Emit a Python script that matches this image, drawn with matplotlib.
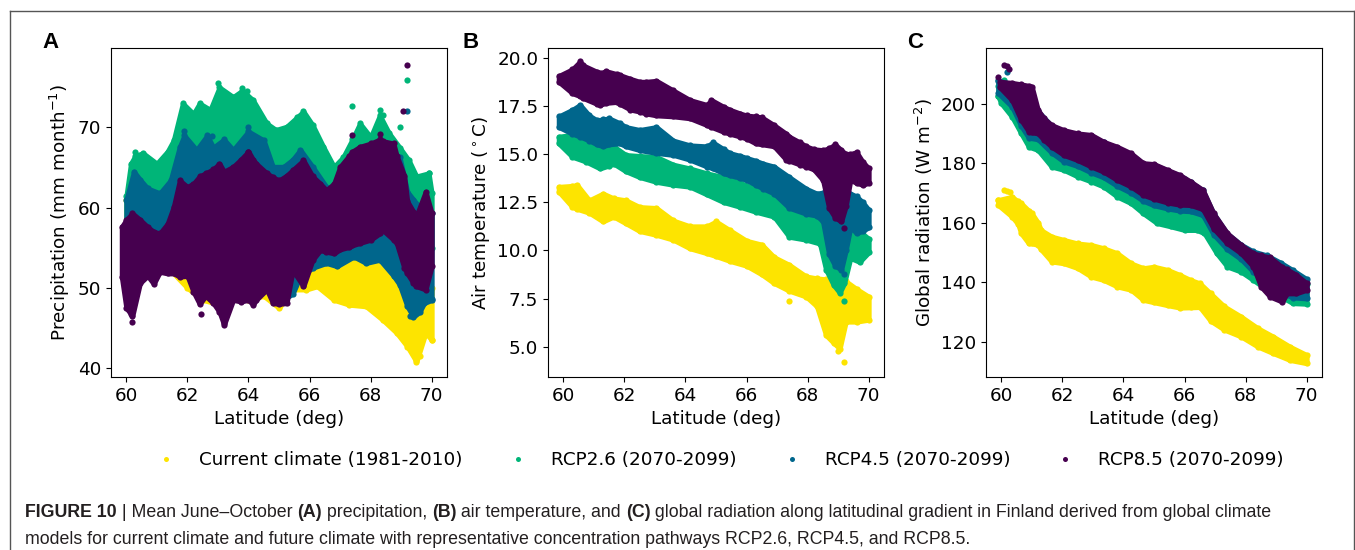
import matplotlib
matplotlib.use("Agg")
import matplotlib.pyplot as plt
from matplotlib.lines import Line2D

# colours of the four climate series
c_cur = "#fde400"
c_26 = "#00b578"
c_45 = "#00668c"
c_85 = "#46004f"

labels = ["Current climate (1981-2010)", "RCP2.6 (2070-2099)",
          "RCP4.5 (2070-2099)", "RCP8.5 (2070-2099)"]

# ---------------- A: precipitation (lower / upper edge of each cloud) ----------------
a_cur_lat = [60.0, 60.5, 61.0, 61.5, 62.0, 62.5, 63.0, 63.5, 64.0, 64.5, 65.0, 65.45, 65.9,
             66.25, 66.8, 67.3, 67.85, 68.4, 68.85, 69.2, 69.5, 69.8, 70.0]
a_cur_lo = [55, 52, 52, 52, 50, 48.5, 48, 48.5, 48.5, 49, 47.5, 49.8, 49.8,
            50.2, 48.5, 47.9, 47.7, 46.0, 44.4, 42.7, 40.8, 44.4, 43.5]
a_cur_hi = [61.0, 59, 58, 58, 59, 59, 59, 59, 59, 58, 58, 57, 56.5,
            56.5, 56, 56.8, 56.5, 56, 54, 52, 50, 50, 50]
a_cur_px = [69.5, 69.6, 70.0, 69.85, 68.9]
a_cur_py = [41.0, 41.5, 43.5, 47.0, 44.5]

a_26_lat = [60.0, 60.15, 60.3, 60.55, 61.0, 61.35, 61.55, 61.85, 62.2, 62.4, 62.75, 63.05,
            63.5, 63.8, 64.15, 64.6, 64.9, 65.25, 65.6, 65.8, 66.1, 66.45, 66.8, 67.1,
            67.4, 67.65, 68.0, 68.3, 68.6, 68.95, 69.25, 69.5, 69.9, 70.0]
a_26_lo = [57, 57, 57, 57, 57, 57, 57, 57, 57, 57, 57, 57,
           57, 57, 57, 57, 57, 57, 57, 57, 58, 58, 58, 58,
           58, 58, 58, 58, 58, 57, 55, 54, 55, 55]
a_26_hi = [61.4, 65.5, 66.5, 66.8, 65.5, 67.0, 68.4, 73.0, 71.7, 73.0, 72.2, 75.0,
           73.8, 74.6, 73.4, 70.5, 69.7, 70.1, 71.3, 72.0, 70.3, 67.6, 65.1, 66.3,
           68.5, 70.5, 68.8, 71.5, 69.3, 67.5, 65.9, 63.9, 64.3, 61.8]
a_26_px = [60.3, 63.0, 63.8, 63.95, 67.4, 68.3, 68.4, 68.95, 69.2, 69.6, 69.9]
a_26_py = [67.0, 75.5, 74.9, 74.6, 72.7, 72.2, 71.5, 70.1, 75.9, 63.8, 64.3]

a_45_lat = [60.0, 60.25, 60.45, 60.7, 61.1, 61.45, 61.75, 61.9, 62.3, 62.65, 62.85, 63.2,
            63.5, 64.0, 64.5, 64.8, 65.15, 65.45, 65.7, 66.1, 66.55, 66.9, 67.45, 67.85,
            68.3, 68.75, 68.95, 69.2, 69.4, 69.6, 69.75, 70.0]
a_45_lo = [53.5, 50.6, 54, 55.6, 55.5, 55.1, 54.6, 54.3, 51.5, 50.6, 50.6, 48,
           50.2, 49.3, 51.0, 49.3, 48.5, 49.3, 51.5, 52.5, 53.1, 52.7, 53.9, 53.1,
           53.5, 51.5, 50.4, 47.7, 46.4, 47.0, 48.1, 48.5]
a_45_hi = [61.0, 64.5, 63.5, 62.4, 61.8, 63.4, 67.6, 69.0, 67.2, 69.0, 67.5, 68.5,
           67.2, 69.5, 68.4, 65.1, 65.1, 66, 67.2, 65.1, 62.6, 61.0, 65.5, 66.8,
           68.4, 65.9, 66.3, 62.0, 61.0, 60.1, 59.8, 59.3]
a_45_px = [64.0, 69.2, 61.9, 62.8, 69.3, 70.0, 60.2]
a_45_py = [70.1, 72.0, 69.5, 68.9, 46.5, 48.6, 49.5]

a_85_lat = [59.85, 60.0, 60.2, 60.45, 60.7, 60.9, 61.1, 61.35, 61.55, 61.75, 62.0, 62.2,
            62.4, 62.6, 62.85, 63.05, 63.2, 63.5, 63.75, 64.0, 64.15, 64.25, 64.6, 64.8,
            65.0, 65.25, 65.45, 65.8, 66.1, 66.35, 66.55, 66.8, 67.0, 67.3, 67.4, 67.65,
            68.0, 68.3, 68.4, 68.75, 68.85, 69.1, 69.2, 69.4, 69.5, 69.8, 70.0]
a_85_lo = [51.4, 47.5, 46.5, 50.6, 51.5, 50.5, 52, 51.8, 51.8, 51.4, 51.5, 49.5,
           48, 49, 48.1, 47, 45.4, 48.5, 48.3, 48.5, 47.9, 48.5, 49.8, 48.1,
           48.0, 48.1, 52.2, 50.2, 53.5, 54.7, 54.5, 54.3, 54.8, 55.1, 55.3, 55.6,
           56.0, 56.8, 57.2, 56.0, 55.6, 52.5, 51.8, 50.6, 50.2, 49.8, 52.7]
a_85_hi = [57.6, 58.5, 59.3, 58.5, 57.6, 57.0, 56.8, 58.0, 60.1, 63.4, 62.6, 63.0,
           63.9, 64.3, 64.8, 65.5, 64.5, 65.1, 66.0, 67.0, 66.0, 65.5, 64.3, 63.8,
           63.4, 64.0, 64.7, 65.9, 63.9, 63.0, 62.2, 63.0, 65.1, 66.5, 67.0, 67.6,
           68.0, 68.5, 68.3, 68.0, 66.5, 64.0, 60.8, 59.5, 59.0, 62.0, 59.3]
a_85_px = [69.2, 69.05, 63.2, 60.2, 60.15, 62.45, 67.4, 68.3, 64.0, 69.95]
a_85_py = [77.8, 72.0, 45.6, 45.8, 46.7, 46.8, 69.0, 69.2, 67.0, 52.5]

# ---------------- B: air temperature ----------------
b_cur_lat = [59.85, 60.3, 60.45, 60.85, 61.3, 61.65, 62.05, 62.5, 63.05, 63.6, 64.15, 64.7,
             65.0, 65.45, 66.0, 66.5, 66.9, 67.4, 67.95, 68.3, 68.6, 68.85, 69.05, 69.25,
             69.6, 70.0]
b_cur_lo = [13.05, 12.25, 12.15, 11.95, 11.5, 11.75, 11.4, 11.0, 10.8, 10.55, 10.1, 9.85,
            9.7, 9.45, 9.2, 8.75, 8.3, 7.9, 7.6, 7.1, 5.6, 5.2, 4.9, 6.3,
            6.3, 6.4]
b_cur_hi = [13.3, 13.35, 13.4, 12.6, 12.95, 12.7, 12.6, 12.25, 12.2, 11.55, 11.25, 11.25,
            11.5, 11.05, 10.5, 10.3, 9.65, 9.25, 8.65, 8.55, 8.5, 8.55, 8.65, 8.4,
            8.0, 7.6]
b_cur_px = [67.4, 69.2, 69.0]
b_cur_py = [7.35, 4.2, 4.8]

b_26_lat = [59.85, 60.3, 60.75, 61.2, 61.5, 61.65, 62.05, 62.5, 63.05, 63.6, 64.15, 64.7,
            65.25, 65.8, 66.3, 66.9, 67.4, 67.95, 68.4, 68.6, 68.85, 69.05, 69.2, 69.4,
            69.7, 70.0]
b_26_lo = [15.55, 14.85, 14.6, 14.25, 14.4, 14.5, 14.1, 13.8, 13.55, 13.4, 13.3, 12.9,
           12.5, 12.25, 12.0, 11.75, 10.7, 10.55, 10.35, 9.0, 8.2, 7.8, 8.3, 9.6,
           9.4, 9.9]
b_26_hi = [15.9, 16.0, 15.85, 15.4, 15.65, 15.4, 14.95, 14.9, 14.85, 14.45, 14.25, 14.0,
           13.8, 13.5, 13.2, 12.8, 12.25, 11.75, 11.6, 11.5, 11.4, 11.3, 11.2, 11.1,
           11.0, 10.6]
b_26_px = [69.2]
b_26_py = [7.35]

b_45_lat = [59.85, 60.3, 60.55, 60.85, 61.1, 61.3, 61.5, 61.85, 62.05, 62.5, 63.05, 63.6,
            64.15, 64.7, 64.9, 65.25, 65.45, 65.8, 66.0, 66.3, 66.55, 66.9, 67.4, 67.95,
            68.3, 68.5, 68.7, 68.9, 69.1, 69.25, 69.4, 69.6, 69.8, 70.0]
b_45_lo = [16.4, 16.05, 15.9, 15.7, 15.5, 15.4, 15.5, 15.55, 15.4, 15.2, 15.05, 14.95,
           14.7, 14.35, 14.25, 14.0, 13.9, 13.75, 13.65, 13.4, 13.2, 12.95, 12.2, 11.9,
           11.8, 11.5, 9.8, 9.2, 9.0, 10.0, 11.2, 10.9, 11.0, 11.2]
b_45_hi = [16.95, 17.3, 17.55, 17.0, 16.75, 16.8, 16.85, 16.6, 16.4, 16.25, 16.4, 15.7,
           15.45, 15.4, 15.6, 15.25, 15.05, 14.9, 14.8, 14.65, 14.5, 14.35, 13.8, 13.2,
           12.95, 13.0, 13.1, 13.2, 13.1, 13.05, 12.95, 12.8, 12.5, 12.1]
b_45_px = [69.2]
b_45_py = [8.8]

b_85_lat = [59.85, 60.3, 60.55, 60.65, 61.1, 61.2, 61.4, 61.75, 61.85, 62.2, 62.5, 62.7,
            63.05, 63.6, 64.15, 64.7, 64.85, 65.25, 65.45, 65.8, 66.0, 66.3, 66.5, 66.9,
            67.3, 67.4, 67.75, 67.95, 68.2, 68.5, 68.7, 68.9, 69.1, 69.25, 69.4, 69.6,
            69.8, 70.0]
b_85_lo = [18.75, 18.15, 18.0, 17.9, 17.6, 17.55, 17.65, 17.7, 17.6, 17.3, 17.2, 17.1,
           17.0, 16.95, 16.85, 16.5, 16.4, 16.15, 16.05, 15.9, 15.8, 15.55, 15.5, 15.4,
           14.7, 14.65, 14.45, 14.35, 14.2, 13.65, 12.2, 11.7, 11.5, 12.3, 13.65, 13.5,
           13.4, 13.5]
b_85_hi = [19.05, 19.4, 19.8, 19.6, 19.27, 19.2, 19.3, 19.15, 19.1, 18.9, 18.75, 18.75,
           18.8, 18.3, 17.8, 17.55, 17.8, 17.45, 17.3, 17.1, 17.0, 16.95, 16.9, 16.5,
           16.05, 15.9, 15.6, 15.4, 15.25, 15.2, 15.3, 15.5, 15.2, 15.0, 15.0, 15.1,
           14.6, 14.25]
b_85_px = [69.2]
b_85_py = [11.15]

# ---------------- C: global radiation ----------------
c_cur_lat = [59.9, 60.35, 60.55, 60.65, 60.9, 61.0, 61.2, 61.3, 61.65, 62.05, 62.5, 62.95,
             63.35, 63.8, 64.25, 64.65, 65.0, 65.45, 65.85, 66.2, 66.5, 66.85, 67.3, 67.85,
             68.4, 68.9, 69.45, 70.0]
c_cur_lo = [165.9, 162, 159.5, 156.4, 153, 153, 152.5, 151, 146.9, 146.3, 144.7, 141.8,
            140.7, 138.5, 137.4, 134, 133.2, 132.2, 131.4, 131.5, 131.6, 127.0, 124, 121.7,
            118.3, 116.1, 113.8, 112.7]
c_cur_hi = [167.6, 168.7, 167.1, 166.5, 164, 163.1, 160, 157.5, 155.3, 154.2, 153, 152.5,
            151.4, 149.7, 146.3, 144.7, 145.2, 144.1, 142.4, 140.7, 139.6, 136.2, 131.8, 128.4,
            124.5, 121.7, 118.3, 115.5]
c_cur_px = [60.1, 60.2, 60.3, 59.9]
c_cur_py = [171, 170.5, 170.2, 167.5]

c_26_lat = [59.9, 60.0, 60.35, 60.65, 60.9, 61.2, 61.65, 62.05, 62.5, 62.95, 63.35, 63.8,
            64.25, 64.65, 65.1, 65.55, 66.0, 66.4, 66.65, 67.05, 67.4, 67.85, 68.25, 68.7,
            69.15, 69.55, 70.0]
c_26_lo = [202.4, 200.1, 195.6, 190, 185.5, 184.4, 178.8, 177.7, 175.5, 173.8, 172.1, 168.7,
           166.5, 163.1, 159.8, 158.7, 157.5, 157.5, 156.4, 149.7, 145.2, 143.5, 140.7, 137.4,
           135.1, 132.9, 132.7]
c_26_hi = [206, 206, 205.5, 205, 204, 196, 191, 189.5, 188.5, 188, 186, 184,
           182, 179, 178, 176, 174.5, 172, 169, 161, 155.5, 151.5, 149, 147.5,
           145, 142.5, 139.5]
c_26_px = [60.1, 59.9]
c_26_py = [208, 202.4]

c_45_lat = [59.9, 60.35, 60.65, 60.9, 61.2, 61.65, 62.05, 62.5, 62.95, 63.35, 63.8, 64.25,
            64.65, 65.0, 65.45, 65.85, 66.2, 66.6, 66.95, 67.4, 67.85, 68.25, 68.7, 69.15,
            69.55, 70.0]
c_45_lo = [203.5, 199, 192.5, 188.5, 188, 183.5, 180.5, 179, 176.8, 175.2, 172.3, 170,
           167.3, 165.8, 164.7, 164, 163.8, 162.5, 156, 151, 147.7, 143.5, 139.5, 136.5,
           134.8, 134.5]
c_45_hi = [207.8, 206.5, 206, 205.5, 197.5, 192.5, 190.8, 189.7, 189.2, 187, 185.2, 183,
           179.8, 179.5, 177.5, 175.8, 173.6, 170.8, 163, 156.3, 152.6, 150.3, 149, 146.5,
           144, 141]
c_45_px = [59.9, 60.2]
c_45_py = [207.5, 210.5]

c_85_lat = [59.95, 60.35, 60.65, 60.9, 61.0, 61.2, 61.4, 61.65, 62.05, 62.5, 62.95, 63.35,
            63.8, 64.25, 64.65, 65.0, 65.45, 65.85, 66.2, 66.6, 66.95, 67.4, 67.85, 68.25,
            68.5, 68.8, 69.2, 69.35, 69.65, 70.0]
c_85_lo = [205.5, 201.2, 194.5, 190.6, 190.3, 190, 187.8, 185.5, 182.7, 181, 178.8, 177.1,
           174.3, 172.1, 169.3, 168, 166.7, 166, 165.9, 164.5, 158, 153, 149.7, 145.2,
           138.5, 135.1, 133.4, 136.2, 136.2, 137.4]
c_85_hi = [207.4, 207, 206.5, 206, 205.7, 197.9, 195, 192.8, 191.1, 190, 189.5, 187.2,
           185.5, 183.3, 180, 179.7, 177.7, 176, 173.8, 171, 163.1, 156.4, 152.5, 149.7,
           149, 148.3, 145, 144.3, 142.5, 139.6]
c_85_px = [59.9, 60.1, 60.2, 60.25]
c_85_py = [209, 213, 212.5, 211.8]


def cloud(ax, lat, lo, hi, px, py, color):
    ax.fill_between(lat, lo, hi, facecolor=color, edgecolor=color, lw=3.5, joinstyle="round")
    ax.scatter(lat, lo, s=20, color=color, lw=0)
    ax.scatter(lat, hi, s=20, color=color, lw=0)
    ax.scatter(px, py, s=20, color=color, lw=0)


fs = 13.2
plt.rcParams["font.family"] = "DejaVu Sans"
plt.rcParams["font.size"] = fs

fig = plt.figure(figsize=(13.55, 5.5), dpi=100)
axA = fig.add_axes([111 / 1355, 173 / 550, 336 / 1355, 329 / 550])
axB = fig.add_axes([548 / 1355, 173 / 550, 336 / 1355, 329 / 550])
axC = fig.add_axes([986 / 1355, 173 / 550, 336 / 1355, 329 / 550])

cloud(axA, a_cur_lat, a_cur_lo, a_cur_hi, a_cur_px, a_cur_py, c_cur)
cloud(axA, a_26_lat, a_26_lo, a_26_hi, a_26_px, a_26_py, c_26)
cloud(axA, a_45_lat, a_45_lo, a_45_hi, a_45_px, a_45_py, c_45)
cloud(axA, a_85_lat, a_85_lo, a_85_hi, a_85_px, a_85_py, c_85)

cloud(axB, b_cur_lat, b_cur_lo, b_cur_hi, b_cur_px, b_cur_py, c_cur)
cloud(axB, b_26_lat, b_26_lo, b_26_hi, b_26_px, b_26_py, c_26)
cloud(axB, b_45_lat, b_45_lo, b_45_hi, b_45_px, b_45_py, c_45)
cloud(axB, b_85_lat, b_85_lo, b_85_hi, b_85_px, b_85_py, c_85)

cloud(axC, c_cur_lat, c_cur_lo, c_cur_hi, c_cur_px, c_cur_py, c_cur)
cloud(axC, c_26_lat, c_26_lo, c_26_hi, c_26_px, c_26_py, c_26)
cloud(axC, c_45_lat, c_45_lo, c_45_hi, c_45_px, c_45_py, c_45)
cloud(axC, c_85_lat, c_85_lo, c_85_hi, c_85_px, c_85_py, c_85)

axA.set_ylim(38.9, 79.9)
axA.set_yticks([40, 50, 60, 70])
axA.set_ylabel("Precipitation (mm month$^{-1}$)")
axB.set_ylim(3.43, 20.5)
axB.set_yticks([5.0, 7.5, 10.0, 12.5, 15.0, 17.5, 20.0])
axB.set_yticklabels(["5.0", "7.5", "10.0", "12.5", "15.0", "17.5", "20.0"])
axB.set_ylabel(r"Air temperature ($^\circ$C)")
axC.set_ylim(108.1, 218.7)
axC.set_yticks([120, 140, 160, 180, 200])
axC.set_ylabel("Global radiation (W m$^{-2}$)")

for ax in (axA, axB, axC):
    ax.set_xlim(59.5, 70.5)
    ax.set_xticks([60, 62, 64, 66, 68, 70])
    ax.set_xlabel("Latitude (deg)")
    ax.tick_params(labelsize=fs)

for x, s in ((42, "A"), (463, "B"), (907, "C")):
    fig.text(x / 1355, 1 - 48 / 550, s, ha="left", va="baseline", fontsize=16,
             fontweight="bold", family="Liberation Sans")

handles = [Line2D([], [], ls="none", marker="o", markersize=3.6, color=c, mec="none")
           for c in (c_cur, c_26, c_45, c_85)]
fig.legend(handles, labels, loc="center", bbox_to_anchor=(716 / 1355, 1 - 460 / 550),
           ncol=4, frameon=False, fontsize=fs)

# frame around the figure panel
fig.add_artist(Line2D([10 / 1355, 1354 / 1355], [1 - 11 / 550, 1 - 11 / 550],
                      transform=fig.transFigure, color="#555555", lw=1))
fig.add_artist(Line2D([10 / 1355, 10 / 1355], [0, 1 - 11 / 550],
                      transform=fig.transFigure, color="#555555", lw=1))
fig.add_artist(Line2D([1354 / 1355, 1354 / 1355], [0, 1 - 11 / 550],
                      transform=fig.transFigure, color="#555555", lw=1))

# caption with bold pieces
cap_fs = 12.8
line1 = [("FIGURE 10", "bold"), (" | Mean June\u2013October ", "normal"), ("(A)", "bold"),
         (" precipitation, ", "normal"), ("(B)", "bold"), (" air temperature, and ", "normal"),
         ("(C)", "bold"),
         (" global radiation along latitudinal gradient in Finland derived from global climate",
          "normal")]
line2 = [("models for current climate and future climate with representative concentration "
          "pathways RCP2.6, RCP4.5, and RCP8.5.", "normal")]

renderer = fig.canvas.get_renderer()
for pieces, yc in ((line1, 510.5), (line2, 537.3)):
    x = 25
    for txt, w in pieces:
        t = fig.text(x / 1355, 1 - yc / 550, txt, ha="left", va="center_baseline",
                     fontsize=cap_fs, fontweight=w, family="Liberation Sans", color="#231f20")
        x += t.get_window_extent(renderer).width

fig.savefig("out.png", dpi=100)
